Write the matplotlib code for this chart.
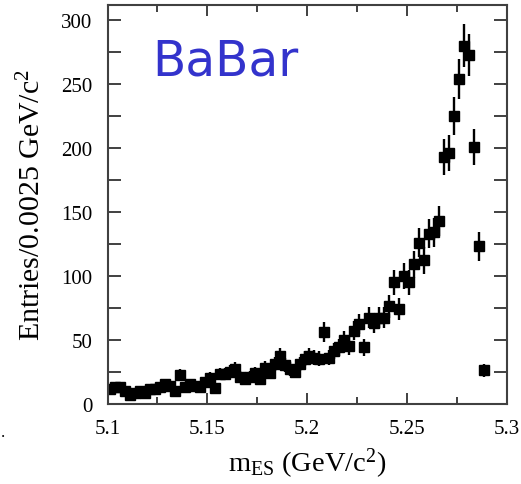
import numpy as np
import matplotlib
matplotlib.use("Agg")
import matplotlib.pyplot as plt

plt.rcParams['font.family'] = ['Liberation Serif', 'DejaVu Serif']
plt.rcParams['mathtext.fontset'] = 'custom'
plt.rcParams['mathtext.rm'] = 'Liberation Serif'
plt.rcParams['mathtext.it'] = 'Liberation Serif:italic'

# m_ES histogram, 0.0025 GeV bins starting at 5.1
bin_start = 5.1
bin_width = 0.0025
entries = [11, 13, 13, 10, 7, 8, 10, 8, 11, 11,
           13, 15, 14, 10, 22, 13, 15, 14, 13, 17,
           20, 12, 23, 23, 25, 27, 21, 19, 21, 24,
           19, 28, 24, 31, 37, 30, 27, 25, 31, 35,
           37, 36, 35, 56, 36, 41, 44, 50, 45, 57,
           62, 44, 67, 63, 67, 67, 76, 95, 74, 100,
           95, 109, 126, 112, 133, 134, 143, 193, 196, 225,
           254, 280, 273, 201, 123, 26]

x_ticks = [5.1, 5.15, 5.2, 5.25, 5.3]
x_tick_labels = ['5.1', '5.15', '5.2', '5.25', '5.3']
y_ticks = [0, 50, 100, 150, 200, 250, 300]

counts = np.array(entries, dtype=float)
centers = bin_start + bin_width * (np.arange(len(counts)) + 0.5)
errors = np.sqrt(counts)  # poisson errors

fig = plt.figure(figsize=(5.21, 4.85), dpi=100)
ax = fig.add_axes([107.5/521, 1 - 404.5/485, 399/521, 398.5/485])

ax.errorbar(centers, counts, yerr=errors, fmt='s', color='black',
            ms=6.8, elinewidth=1.7, capsize=0)

ax.set_xlim(5.1, 5.3)
ax.set_ylim(0, 312)

ax.set_xticks(x_ticks)
ax.set_xticklabels(x_tick_labels)
ax.set_xticks(np.arange(5.125, 5.3, 0.05), minor=True)
ax.set_yticks(y_ticks)
ax.set_yticks(np.arange(25, 300, 50), minor=True)

ax.tick_params(which='both', direction='in', top=True, right=True,
               color='#404040', width=1.4, labelsize=15)
ax.tick_params(axis='x', which='major', length=8, pad=11)
ax.tick_params(axis='x', which='minor', length=5)
ax.tick_params(axis='y', which='both', length=9.5, pad=11)

for s in ax.spines.values():
    s.set_linewidth(1.5)
    s.set_color('#404040')

fig.text(307/521, 1 - 464/485, r'$\mathrm{m_{ES}}$ (GeV/c$^2$)',
         fontsize=20.5, ha='center', va='center')
fig.text(32/521, 1 - 205/485, r'Entries/0.0025 GeV/c$^2$',
         fontsize=21.5, rotation=90, ha='center', va='center')

ax.text(0.112, 0.86, 'BaBar', transform=ax.transAxes, color='#3333cc',
        fontsize=35, family='DejaVu Sans', ha='left', va='center')

fig.text(0.002, 1 - 433/485, '.', fontsize=12, ha='left', va='center')

fig.savefig('out.png', dpi=100)
